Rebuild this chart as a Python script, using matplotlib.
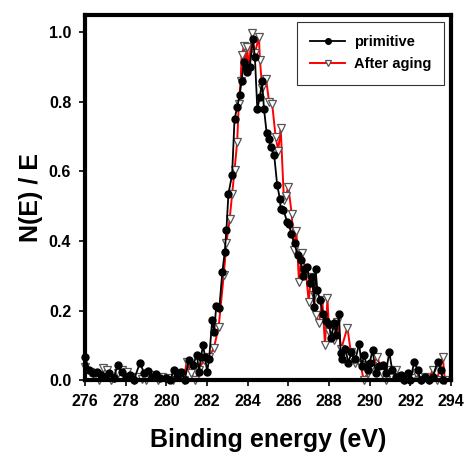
import matplotlib
matplotlib.use("Agg")
import matplotlib.pyplot as plt

plt.rcParams['font.family'] = ['Liberation Sans', 'DejaVu Sans']

# binding energy (eV) / normalised intensity
e_prim = [276.0, 276.2, 276.4, 276.6, 276.8, 277.0, 277.2, 277.4, 277.6, 277.8,
          278.0, 278.2, 278.4, 278.7, 278.9, 279.1, 279.3, 279.5, 279.7, 280.0,
          280.2, 280.35, 280.5, 280.7, 280.9, 281.1, 281.3, 281.5, 281.6, 281.7,
          281.8, 281.9, 282.0, 282.1, 282.25, 282.35, 282.45, 282.6, 282.75, 282.87,
          282.95, 283.05, 283.23, 283.35, 283.48, 283.6, 283.7, 283.8, 283.9, 283.97,
          284.1, 284.25, 284.35, 284.47, 284.6, 284.7, 284.8, 284.93, 285.05, 285.12,
          285.3, 285.45, 285.58, 285.62, 285.75, 285.94, 286.02, 286.14, 286.3, 286.45,
          286.6, 286.7, 286.75, 286.93, 287.05, 287.18, 287.26, 287.34, 287.42, 287.55,
          287.7, 287.85, 288.0, 288.1, 288.24, 288.35, 288.49, 288.57, 288.66, 288.8,
          288.95, 289.1, 289.3, 289.48, 289.6, 289.73, 289.9, 290.0, 290.14, 290.3,
          290.45, 290.63, 290.8, 290.96, 291.1, 291.3, 291.53, 291.7, 291.9, 292.0,
          292.19, 292.35, 292.5, 292.7, 292.9, 293.1, 293.34, 293.5, 293.6]
n_prim = [0.065, 0.03, 0.02, 0.024, 0.014, 0.01, 0.02, 0.005, 0.043, 0.024,
          0.01, 0.015, 0.0, 0.05, 0.02, 0.027, 0.01, 0.017, 0.005, 0.005,
          0.0, 0.029, 0.01, 0.024, 0.0, 0.057, 0.043, 0.072, 0.024, 0.067,
          0.1, 0.067, 0.024, 0.06, 0.172, 0.139, 0.213, 0.206, 0.31, 0.369,
          0.431, 0.536, 0.59, 0.75, 0.785, 0.82, 0.86, 0.915, 0.897, 0.886,
          0.90, 0.98, 0.93, 0.78, 0.814, 0.86, 0.78, 0.71, 0.694, 0.67,
          0.647, 0.56, 0.522, 0.493, 0.49, 0.455, 0.45, 0.42, 0.393, 0.36,
          0.345, 0.30, 0.32, 0.326, 0.28, 0.297, 0.21, 0.318, 0.259, 0.23,
          0.19, 0.17, 0.16, 0.12, 0.163, 0.13, 0.19, 0.077, 0.062, 0.09,
          0.05, 0.08, 0.06, 0.105, 0.04, 0.072, 0.03, 0.05, 0.086, 0.02,
          0.04, 0.043, 0.02, 0.081, 0.03, 0.01, 0.014, 0.0, 0.02, 0.0,
          0.053, 0.029, 0.0, 0.01, 0.0, 0.01, 0.053, 0.029, 0.0]

e_aged = [276.0, 276.25, 276.5, 276.7, 276.9, 277.1, 277.25, 277.4, 277.6, 277.8,
          278.05, 278.2, 278.4, 278.6, 278.8, 279.0, 279.2, 279.37, 279.6, 279.8,
          280.1, 280.3, 280.5, 280.68, 280.85, 281.0, 281.2, 281.42, 281.6, 281.83,
          282.08, 282.33, 282.57, 282.82, 282.95, 283.11, 283.23, 283.35, 283.48, 283.56,
          283.65, 283.7, 283.82, 283.9, 283.97, 284.05, 284.2, 284.35, 284.55, 284.6,
          284.71, 284.9, 285.05, 285.2, 285.37, 285.5, 285.62, 285.78, 285.86, 286.0,
          286.16, 286.27, 286.39, 286.52, 286.65, 286.85, 287.0, 287.1, 287.26, 287.34,
          287.5, 287.67, 287.8, 287.92, 288.0, 288.24, 288.4, 288.6, 288.9, 289.07,
          289.3, 289.56, 289.7, 289.9, 290.1, 290.38, 290.6, 290.8, 291.0, 291.28,
          291.5, 291.7, 291.9, 292.1, 292.3, 292.5, 292.7, 292.9, 293.09, 293.3,
          293.59, 293.7]
n_aged = [0.038, 0.024, 0.01, 0.0, 0.034, 0.03, 0.0, 0.005, 0.02, 0.03,
          0.024, 0.01, 0.0, 0.01, 0.002, 0.0, 0.01, 0.014, 0.0, 0.01,
          0.005, 0.0, 0.01, 0.019, 0.0, 0.053, 0.02, 0.0, 0.03, 0.057,
          0.067, 0.091, 0.153, 0.302, 0.393, 0.462, 0.534, 0.603, 0.685, 0.795,
          0.86, 0.934, 0.96, 0.9, 0.958, 0.895, 0.999, 0.94, 0.987, 0.92,
          0.84, 0.867, 0.80, 0.795, 0.70, 0.66, 0.726, 0.517, 0.53, 0.555,
          0.479, 0.373, 0.43, 0.282, 0.366, 0.316, 0.225, 0.297, 0.244, 0.187,
          0.163, 0.23, 0.10, 0.235, 0.139, 0.115, 0.168, 0.09, 0.151, 0.081,
          0.05, 0.043, 0.0, 0.02, 0.04, 0.067, 0.02, 0.0, 0.03, 0.029,
          0.01, 0.0, 0.01, 0.005, 0.02, 0.0, 0.01, 0.0, 0.029, 0.0,
          0.067, 0.0]

fig = plt.figure(figsize=(4.65, 4.53), dpi=100)
ax = fig.add_axes([0.183, 0.161, 0.787, 0.806])

ax.plot(e_prim, n_prim, color='black', lw=1.3, marker='o', ms=5,
        mfc='black', mec='black', label='primitive', clip_on=False, zorder=3)
ax.plot(e_aged, n_aged, color='red', lw=1.4, marker='v', ms=6,
        mfc='white', mec='#555555', mew=0.9, label='After aging', clip_on=False, zorder=2)

ax.set_xlim(276, 294)
ax.set_ylim(0, 1.05)
ax.set_xticks(range(276, 295, 2))
ax.set_yticks([0.0, 0.2, 0.4, 0.6, 0.8, 1.0])
ax.set_yticklabels(['0.0', '0.2', '0.4', '0.6', '0.8', '1.0'])

for s in ax.spines.values():
    s.set_linewidth(3)
ax.tick_params(direction='out', length=4, width=1.2, labelsize=11.5, pad=6)
for lab in ax.get_xticklabels() + ax.get_yticklabels():
    lab.set_fontweight('bold')

ax.set_xlabel('Binding energy (eV)', fontsize=18, fontweight='bold', labelpad=14)
ax.set_ylabel('N(E) / E', fontsize=18, fontweight='bold', labelpad=4)

leg = ax.legend(loc='upper right', fontsize=10.5, frameon=True, fancybox=False,
                borderaxespad=0.45, handlelength=2.4, handletextpad=0.6,
                labelspacing=0.6, borderpad=0.9, framealpha=1, markerscale=0.8)
leg.get_frame().set_edgecolor('#333333')
leg.get_frame().set_linewidth(0.8)
for t in leg.get_texts():
    t.set_fontweight('bold')

fig.savefig('out.png', dpi=100)
